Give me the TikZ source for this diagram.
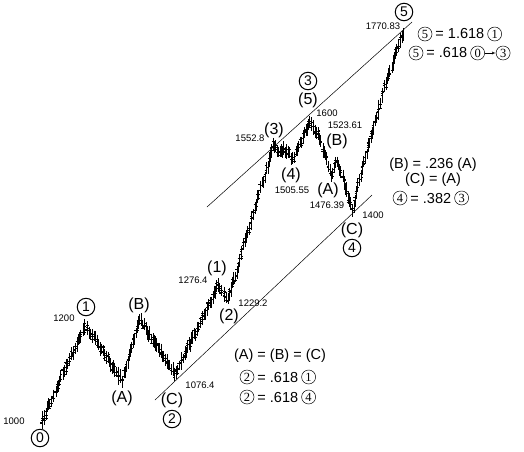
\documentclass[tikz,border=0pt]{standalone}
\usepackage{fontspec}
\setmainfont{Liberation Sans}
\newfontfamily\digitserif{Liberation Serif}
\usetikzlibrary{positioning,arrows}
\tikzstyle{line} = [draw, -latex']
\tikzstyle{bar} = [draw, line width=0.5pt]
\tikzstyle{trend} = [draw, line width=0.5pt]
\tikzstyle{wave} = [inner sep=0pt, font=\fontsize{16}{16}\selectfont]
\tikzstyle{major} = [draw, circle, line width=1pt, inner sep=0pt, minimum size=17.5pt, font=\fontsize{14}{14}\selectfont]
\tikzstyle{price} = [inner sep=0pt, font=\fontsize{9.5}{9.5}\selectfont]
\tikzstyle{ratio} = [inner sep=0pt, font=\fontsize{14.5}{14.5}\selectfont]
\tikzstyle{minor} = [draw, circle, line width=0.5pt, inner sep=0pt, minimum size=14pt, font=\digitserif\fontsize{12.5}{12.5}\selectfont]
\begin{document}
\begin{tikzpicture}[x=1pt, y=-1pt]
	\useasboundingbox (0,0) rectangle (524,451);
	
	% price bars, leg by leg
	\pgfmathsetseed{11}
	\foreach \xa/\ya/\xb/\yb in {40/425/85/325, 85/325/122/380, 122/380/140/320, 140/320/175/375,
		175/375/218/285, 218/285/228/299, 228/299/273/146, 273/146/280/152, 280/152/284/148,
		284/148/293/159, 293/159/310/121, 310/121/318/134, 318/134/331/174, 331/174/337/160,
		337/160/352/210, 352/210/368/147, 368/147/383/92, 383/92/393/62, 393/62/403/33}{
		\pgfmathtruncatemacro{\nb}{max(1,round((\xb-\xa)/1.4))}
		\foreach \i in {1,...,\nb}{
			\pgfmathsetmacro{\bx}{\xa+(\xb-\xa)*\i/\nb+0.6*rand}
			\pgfmathsetmacro{\by}{\ya+(\yb-\ya)*\i/\nb+2.5*rand}
			\pgfmathsetmacro{\bt}{\by-4.5-3*rnd}
			\pgfmathsetmacro{\bb}{\by+4.5+3*rnd}
			\pgfmathsetmacro{\bo}{\by+4*rand}
			\pgfmathsetmacro{\bc}{\by+4*rand}
			\pgfmathsetmacro{\bm}{\by+4*rand}
			\draw[bar] (\bx,\bt) -- (\bx,\bb) (\bx-1.4,\bo) -- (\bx,\bo) (\bx,\bc) -- (\bx+1.4,\bc)
				(\bx-1.4,\bm) -- (\bx+1.4,\bm);
		}
	}
	
	% channel
	\coordinate (lo1) at (155,400);
	\coordinate (lo2) at (372,195);
	\coordinate (up1) at (207,207);
	\coordinate (up2) at (412,22);
	\path [trend] (lo1) -- (lo2);
	\path [trend] (up1) -- (up2);
	
	% wave labels
	\node [major] (w0) at (40,438) {0};
	\node [major] (w1) at (86,307) {1};
	\node [wave] (a1) at (122,398) {(A)};
	\node [wave] (b1) at (139,305) {(B)};
	\node [wave] (c1) at (172,400) {(C)};
	\node [major, below of = c1, node distance = 19pt] (w2) {2};
	\node [wave] (s1) at (217,268) {(1)};
	\node [wave] (s2) at (229,316) {(2)};
	\node [wave] (s3) at (274,130) {(3)};
	\node [wave] (s4) at (291,175) {(4)};
	\node [wave] (s5) at (308,100) {(5)};
	\node [major, above of = s5, node distance = 19pt] (w3) {3};
	\node [wave] (a2) at (328,190) {(A)};
	\node [wave] (b2) at (337,141) {(B)};
	\node [wave] (c2) at (352,230) {(C)};
	\node [major, below of = c2, node distance = 18pt] (w4) {4};
	\node [major] (w5) at (404,12) {5};
	
	% prices
	\node [price] (p1000) at (14,421) {1000};
	\node [price] (p1200) at (64,318) {1200};
	\node [price] (p1076) at (200,385) {1076.4};
	\node [price] (p1276) at (193,280) {1276.4};
	\node [price] (p1229) at (253,303) {1229.2};
	\node [price] (p1552) at (250,138) {1552.8};
	\node [price] (p1505) at (292,190) {1505.55};
	\node [price] (p1600) at (327,113) {1600};
	\node [price] (p1523) at (345,125) {1523.61};
	\node [price] (p1476) at (327,205) {1476.39};
	\node [price] (p1400) at (373,215) {1400};
	\node [price] (p1770) at (383,26) {1770.83};
	
	% ratios, top right
	\node [minor] (r1a) at (425,34) {5};
	\node [ratio, right = 3pt of r1a] (r1t) {= 1.618};
	\node [minor, right = 3pt of r1t] (r1b) {1};
	\node [minor] (r2a) at (416,53) {5};
	\node [ratio, right = 3pt of r2a] (r2t) {= .618};
	\node [minor, right = 3pt of r2t] (r2b) {0};
	\node [minor, right = 11pt of r2b] (r2c) {3};
	\path [line] (r2b) -- (r2c);
	
	% ratios, middle right
	\node [ratio] (r3) at (433,165) {(B) = .236 (A)};
	\node [ratio] (r4) at (433,180) {(C) = (A)};
	\node [minor] (r5a) at (400,198) {4};
	\node [ratio, right = 3pt of r5a] (r5t) {= .382};
	\node [minor, right = 3pt of r5t] (r5b) {3};
	
	% ratios, bottom
	\node [ratio] (r6) at (280,356) {(A) = (B) = (C)};
	\node [minor] (r7a) at (247,377) {2};
	\node [ratio, right = 3pt of r7a] (r7t) {= .618};
	\node [minor, right = 3pt of r7t] (r7b) {1};
	\node [minor] (r8a) at (247,397) {2};
	\node [ratio, right = 3pt of r8a] (r8t) {= .618};
	\node [minor, right = 3pt of r8t] (r8b) {4};
\end{tikzpicture}
\end{document}
